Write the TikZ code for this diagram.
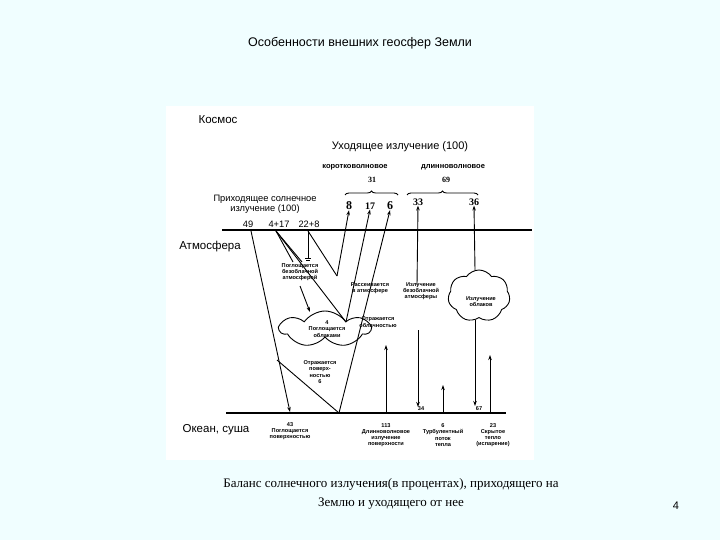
\documentclass[tikz,border=0pt]{standalone}
\usepackage{fontspec}
\setmainfont{Liberation Serif}
\setsansfont{Liberation Sans}
\usetikzlibrary{arrows.meta,shapes.symbols,decorations.pathreplacing}
\begin{document}
\begin{tikzpicture}[x=1pt,y=-1pt,
 lab/.style={font=\sffamily\fontsize{#1}{#1}\selectfont,inner sep=0pt,align=center},
 lab/.default=5,
 sm/.style={font=\sffamily\bfseries\fontsize{5.6}{6.2}\selectfont,inner sep=0pt,align=center},
 ln/.style={line width=0.9pt},
 ar/.style={line width=0.9pt,-{Stealth[length=5pt,width=3.5pt]}},
 cld/.style={cloud,cloud puffs=7,cloud puff arc=110,draw,line width=0.9pt,fill=white}]
\fill[blue!8!cyan!6!white] (0,0) rectangle (720,540);
\useasboundingbox (0,0) rectangle (720,540);
\fill[white] (166,106) rectangle (534,460);
\node[lab=12.5] (title) at (360,43) {Особенности внешних геосфер Земли};
\node[lab=11.5] (kos) at (218,120) {Космос};
\node[lab=11] (out) at (400,147) {Уходящее излучение (100)};
\node[lab=7.5,font=\sffamily\bfseries\fontsize{7.5}{7.5}\selectfont] (kv) at (355,167) {коротковолновое};
\node[lab=7.5,font=\sffamily\bfseries\fontsize{7.5}{7.5}\selectfont] (dv) at (453,167) {длинноволновое};
\node[font=\bfseries\fontsize{8}{8}\selectfont,inner sep=0pt] (n31) at (372,180) {31};
\node[font=\bfseries\fontsize{8}{8}\selectfont,inner sep=0pt] (n69) at (446,180) {69};
\draw[ln,decorate,decoration={brace,amplitude=4pt}] (345,195) -- (398,195);
\draw[ln,decorate,decoration={brace,amplitude=4pt}] (407,195) -- (478,195);
\node[lab=9.3] (inc) at (265,204) {Приходящее солнечное\\[1pt]излучение (100)};
\node[lab=9.3] (n49) at (248,224) {49};
\node[lab=9.3] (n417) at (279,224) {4+17};
\node[lab=9.3] (n228) at (309,224) {22+8};
\node[font=\bfseries\fontsize{12}{12}\selectfont,inner sep=0pt] (n8) at (349,206) {8};
\node[font=\bfseries\fontsize{10}{10}\selectfont,inner sep=0pt] (n17) at (370,206) {17};
\node[font=\bfseries\fontsize{12}{12}\selectfont,inner sep=0pt] (n6) at (390,206) {6};
\node[font=\bfseries\fontsize{10}{10}\selectfont,inner sep=0pt] (n33) at (418,202) {33};
\node[font=\bfseries\fontsize{10}{10}\selectfont,inner sep=0pt] (n36) at (474,202) {36};
\draw[line width=1.1pt] (222,230) -- (532,230);
\node[lab=11.5] (atm) at (210,247) {Атмосфера};
\draw[line width=1.6pt] (226,413) -- (506,413);
\node[lab=11.5] (oc) at (216,430) {Океан, суша};
% clouds
\node[cld,minimum width=90pt,minimum height=36pt] (c1) at (325,329) {};
\node[sm] (c1t) at (327,329) {4\\Поглощается\\облаками};
\node[cld,minimum width=62pt,minimum height=52pt] (c2) at (479,296) {};
\node[sm] (c2t) at (481,302) {Излучение\\облаков};
% texts
\node[sm,fill=white] (t1) at (300,272) {Поглощается\\безоблачной\\атмосферой};
\node[sm] (t2) at (370,288) {Рассеивается\\в атмосфере};
\node[sm] (t3) at (421,291) {Излучение\\безоблачной\\атмосферы};
\node[sm] (t4) at (378,322) {Отражается\\облачностью};
\node[sm] (t5) at (320,372) {Отражается\\поверх-\\ностью\\6};
% points
\coordinate (p49) at (251,231);
\coordinate (g43) at (290,412);
\coordinate (s) at (339,413);
\coordinate (p417) at (276,231);
\coordinate (p228) at (308,231);
\coordinate (sc) at (337,276);
\coordinate (rc) at (346,322);
\coordinate (mid) at (277,360);
\draw[ar] (p49) -- (g43);
\draw[ln] (mid) -- (s);
\draw[ar] (s) -- (n6.south);
\draw[ln] (p417) -- (293,262);
\draw[ln] (p417) -- (302,262);
\draw[ar] (300,286) -- (310,312);
\draw[ln] (p417) -- (rc);
\draw[ar] (rc) -- (n17.south);
\draw[ln] (p228) -- (308,258);
\draw[ln] (305,258) -- (311,258) (306,260) -- (310,260);
\draw[ln] (p228) -- (sc);
\draw[ar] (sc) -- (n8.south);
\draw[ar] (417,285) -- (n33.south);
\draw[ar] (475,270) -- (n36.south);
\draw[ar] (386,412) -- (386,345);
\draw[ar] (418,330) -- (418,407);
\draw[ar] (443,412) -- (443,385);
\draw[ar] (475,320) -- (475,406);
\draw[ar] (490,412) -- (490,355);
\node[sm] (b34) at (421,409) {34};
\node[sm] (b67) at (479,409) {67};
\node[sm] (b1) at (290,431) {43\\Поглощается\\поверхностью};
\node[sm] (b2) at (386,435) {113\\Длинноволновое\\излучение\\поверхности};
\node[sm] (b3) at (443,435) {6\\Турбулентный\\поток\\тепла};
\node[sm] (b4) at (493,435) {23\\Скрытое\\тепло\\(испарение)};
\node[font=\fontsize{13}{19}\selectfont,align=center,inner sep=0pt] (cap) at (391,494) {Баланс солнечного излучения(в процентах), приходящего на\\Землю и уходящего от нее};
\node[font=\sffamily\fontsize{11}{11}\selectfont,inner sep=0pt] (pg) at (676,506) {4};
\end{tikzpicture}
\end{document}
